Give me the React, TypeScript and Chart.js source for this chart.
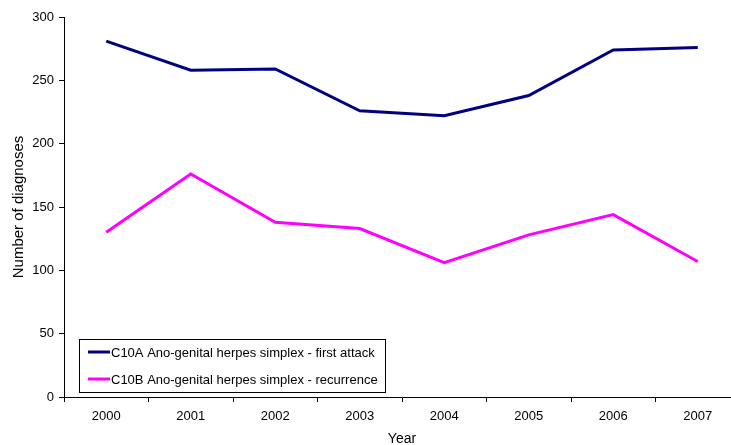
import React, { useEffect, useRef } from "react";
import { Chart, registerables } from "chart.js";

Chart.register(...registerables);

const years = ["2000", "2001", "2002", "2003", "2004", "2005", "2006", "2007"];
const firstAttack = [281, 258, 259, 226, 222, 238, 274, 276];
const recurrence = [130, 176, 138, 133, 106, 128, 144, 107];
const seriesLabels = [
  "C10A Ano-genital herpes simplex - first attack",
  "C10B Ano-genital herpes simplex - recurrence",
];
const seriesColors = ["#000080", "#FF00FF"];

const FONT = "'Liberation Sans', Arial, sans-serif";

const boxLegend = {
  id: "boxLegend",
  afterDraw(chart: any) {
    const ctx = chart.ctx;
    const area = chart.chartArea;
    const x = area.left + 15;
    const y = area.bottom - 58;
    const w = 306;
    const h = 53;
    ctx.save();
    ctx.fillStyle = "#fff";
    ctx.fillRect(x, y, w, h);
    ctx.strokeStyle = "#000";
    ctx.lineWidth = 1;
    ctx.strokeRect(x + 0.5, y + 0.5, w, h);
    ctx.font = `13px ${FONT}`;
    ctx.textBaseline = "middle";
    chart.data.datasets.forEach((ds: any, i: number) => {
      const cy = y + 13 + i * 27;
      ctx.strokeStyle = ds.borderColor;
      ctx.lineWidth = 3;
      ctx.beginPath();
      ctx.moveTo(x + 9, cy);
      ctx.lineTo(x + 31, cy);
      ctx.stroke();
      ctx.fillStyle = "#000";
      ctx.fillText(ds.label, x + 32, cy + 1);
    });
    ctx.restore();
  },
};

export default function App() {
  const ref = useRef<HTMLCanvasElement>(null);
  useEffect(() => {
    const chart = new Chart(ref.current!, {
      type: "line",
      data: {
        labels: years,
        datasets: [
          {
            label: seriesLabels[0],
            data: firstAttack,
            borderColor: seriesColors[0],
            backgroundColor: seriesColors[0],
            borderWidth: 3,
            pointRadius: 0,
            tension: 0,
          },
          {
            label: seriesLabels[1],
            data: recurrence,
            borderColor: seriesColors[1],
            backgroundColor: seriesColors[1],
            borderWidth: 3,
            pointRadius: 0,
            tension: 0,
          },
        ],
      },
      options: {
        animation: false,
        responsive: false,
        maintainAspectRatio: false,
        layout: { padding: { left: 0, right: 5, top: 17, bottom: 0 } },
        plugins: { legend: { display: false }, tooltip: { enabled: false } },
        scales: {
          x: {
            offset: true,
            grid: {
              offset: true,
              drawOnChartArea: false,
              drawTicks: true,
              tickLength: 5,
              color: "#000",
            },
            border: { color: "#000", width: 1 },
            ticks: { color: "#000", font: { family: FONT, size: 13 }, padding: 7, maxRotation: 0 },
            title: {
              display: true,
              text: "Year",
              color: "#000",
              font: { family: FONT, size: 14 },
              padding: { top: 3, bottom: -3 },
            },
            afterFit: (s: any) => {
              s.height = 48;
            },
          },
          y: {
            min: 0,
            max: 300,
            ticks: { stepSize: 50, color: "#000", font: { family: FONT, size: 13 }, padding: 5 },
            grid: {
              drawOnChartArea: false,
              drawTicks: true,
              tickLength: 5,
              color: "#000",
            },
            border: { color: "#000", width: 1 },
            title: {
              display: true,
              text: "Number of diagnoses",
              color: "#000",
              font: { family: FONT, size: 15 },
              padding: { top: 10, bottom: 0 },
            },
            afterFit: (s: any) => {
              s.width = 64;
            },
          },
        },
      },
      plugins: [boxLegend],
    });
    return () => chart.destroy();
  }, []);
  return (
    <div
      style={{
        position: "fixed",
        left: 0,
        top: 0,
        width: 731,
        height: 445,
        overflow: "hidden",
        background: "#fff",
      }}
    >
      <canvas ref={ref} width={745} height={445} style={{ width: 745, height: 445, display: "block" }} />
    </div>
  );
}
